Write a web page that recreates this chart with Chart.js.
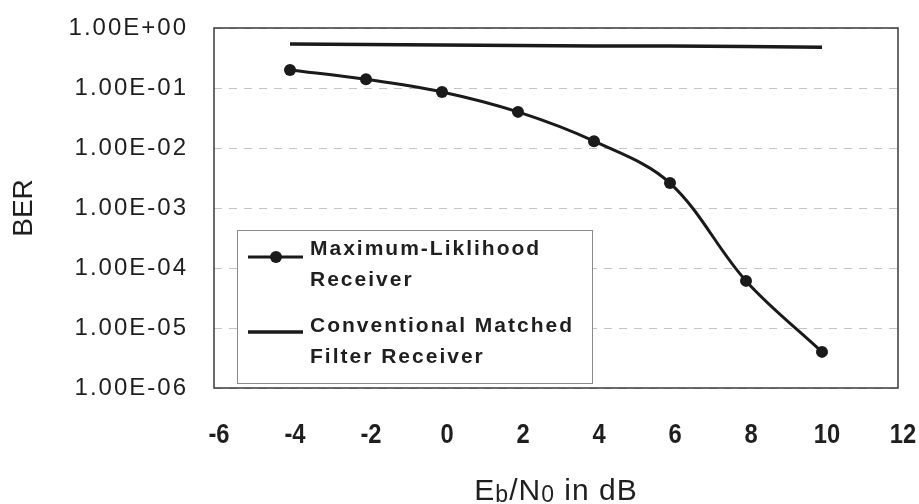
<!DOCTYPE html>
<html>
<head>
<meta charset="utf-8">
<title>BER vs Eb/N0</title>
<script src="https://cdn.jsdelivr.net/npm/chart.js@4.4.1/dist/chart.umd.min.js"></script>
<style>
  html, body { margin: 0; padding: 0; background: #fff; }
  #berChart { display: block; }
</style>
</head>
<body>
<canvas id="berChart" width="919" height="504"></canvas>
<script>
// Eb/N0 in dB
const ebNo = [-4, -2, 0, 2, 4, 6, 8, 10];
// BER
const mlBer = [0.2, 0.14, 0.086, 0.04, 0.013, 0.0026, 6.1e-5, 4e-6];
const mfBer = [0.54, 0.53, 0.52, 0.51, 0.5, 0.5, 0.49, 0.48];
// axes
const xTicks = [-6, -4, -2, 0, 2, 4, 6, 8, 10, 12];
const yTicks = [1, 1e-1, 1e-2, 1e-3, 1e-4, 1e-5, 1e-6];
const yTickLabels = ['1.00E+00', '1.00E-01', '1.00E-02', '1.00E-03', '1.00E-04', '1.00E-05', '1.00E-06'];
const legendLabels = [['Maximum-Liklihood', 'Receiver'], ['Conventional Matched', 'Filter Receiver']];

const FONT = "'Liberation Sans', Arial, sans-serif";
const INK = '#1f1f1f';

const decor = {
  id: 'decor',
  beforeDraw(chart) {
    const ctx = chart.ctx;
    ctx.save();
    ctx.fillStyle = '#fff';
    ctx.fillRect(0, 0, chart.width, chart.height);
    ctx.restore();
    // y tick labels in the original are spaced out
    ctx.letterSpacing = '2px';
  },
  beforeDatasetsDraw(chart) {
    const ctx = chart.ctx, a = chart.chartArea, ys = chart.scales.y;
    ctx.save();
    ctx.letterSpacing = '0px';
    // dashed gridlines
    ctx.strokeStyle = '#c4c4c4';
    ctx.lineWidth = 1;
    ctx.setLineDash([8, 7]);
    yTicks.forEach(function(v) {
      const y = Math.round(ys.getPixelForValue(v)) + 0.5;
      ctx.beginPath();
      ctx.moveTo(a.left, y);
      ctx.lineTo(a.right, y);
      ctx.stroke();
    });
    ctx.setLineDash([]);
    // plot frame
    ctx.strokeStyle = '#3a3a3a';
    ctx.lineWidth = 1.5;
    ctx.strokeRect(a.left, a.top, a.right - a.left, a.bottom - a.top);
    ctx.restore();
  },
  afterDraw(chart) {
    const ctx = chart.ctx, a = chart.chartArea, xs = chart.scales.x;
    ctx.save();

    // x tick labels, narrow like the original
    ctx.letterSpacing = '0px';
    ctx.fillStyle = INK;
    ctx.font = 'bold 27px ' + FONT;
    ctx.textAlign = 'center';
    ctx.textBaseline = 'middle';
    xs.ticks.forEach(function(t) {
      const px = xs.getPixelForValue(t.value) + 5;
      ctx.save();
      ctx.translate(px, 436);
      ctx.scale(0.88, 1);
      ctx.fillText(String(t.value), 0, 0);
      ctx.restore();
    });

    // legend box inside plot
    const lx = a.left + 23, ly = a.top + 202, lw = 355, lh = 153;
    ctx.fillStyle = '#fff';
    ctx.fillRect(lx, ly, lw, lh);
    ctx.strokeStyle = '#8a8a8a';
    ctx.lineWidth = 1;
    ctx.strokeRect(lx + 0.5, ly + 0.5, lw, lh);

    ctx.font = 'bold 21px ' + FONT;
    ctx.letterSpacing = '2px';
    ctx.fillStyle = INK;
    ctx.textAlign = 'left';
    ctx.textBaseline = 'alphabetic';
    const rows = [ly + 25, ly + 102];
    legendLabels.forEach(function(lines, i) {
      const ds = chart.data.datasets[i];
      const sy = rows[i] + (i === 0 ? 2 : 0);
      ctx.strokeStyle = ds.borderColor;
      ctx.lineWidth = ds.borderWidth;
      ctx.beginPath();
      ctx.moveTo(lx + 11, sy);
      ctx.lineTo(lx + 66, sy);
      ctx.stroke();
      if (ds.pointRadius > 0) {
        ctx.fillStyle = ds.pointBackgroundColor;
        ctx.beginPath();
        ctx.arc(lx + 39, sy, ds.pointRadius, 0, Math.PI * 2);
        ctx.fill();
      }
      ctx.fillStyle = INK;
      ctx.fillText(lines[0], lx + 73, rows[i]);
      ctx.fillText(lines[1], lx + 73, rows[i] + 31);
    });

    // y title
    ctx.save();
    ctx.translate(24, (a.top + a.bottom) / 2);
    ctx.rotate(-Math.PI / 2);
    ctx.font = '28px ' + FONT;
    ctx.letterSpacing = '0px';
    ctx.textAlign = 'center';
    ctx.textBaseline = 'middle';
    ctx.fillText('BER', 0, 0);
    ctx.restore();

    // x title with subscripts
    const parts = [['E', 30, 0], ['b', 23, 2], ['/N', 30, 0], ['0', 23, 2], [' in dB', 30, 0]];
    ctx.letterSpacing = '1px';
    ctx.textAlign = 'left';
    ctx.textBaseline = 'alphabetic';
    let total = 0;
    parts.forEach(function(p) {
      ctx.font = p[1] + 'px ' + FONT;
      total += ctx.measureText(p[0]).width;
    });
    let x = (a.left + a.right) / 2 - total / 2;
    parts.forEach(function(p) {
      ctx.font = p[1] + 'px ' + FONT;
      ctx.fillText(p[0], x, 500 + p[2]);
      x += ctx.measureText(p[0]).width;
    });

    ctx.restore();
  }
};

const ctx = document.getElementById('berChart').getContext('2d');
const chart = new Chart(ctx, {
  type: 'line',
  data: {
    datasets: [{
      label: 'Maximum-Liklihood Receiver',
      data: ebNo.map(function(x, i) { return { x: x, y: mlBer[i] }; }),
      borderColor: '#1a1a1a',
      borderWidth: 3,
      pointRadius: 6,
      pointBackgroundColor: '#1a1a1a',
      pointBorderWidth: 0,
      tension: 0.35
    }, {
      label: 'Conventional Matched Filter Receiver',
      data: ebNo.map(function(x, i) { return { x: x, y: mfBer[i] }; }),
      borderColor: '#1a1a1a',
      borderWidth: 3.5,
      pointRadius: 0,
      tension: 0
    }]
  },
  options: {
    responsive: false,
    animation: false,
    layout: { padding: { left: 0, right: 21, top: 28, bottom: 0 } },
    plugins: {
      legend: { display: false },
      tooltip: { enabled: false }
    },
    scales: {
      x: {
        type: 'linear',
        min: -6,
        max: 12,
        afterBuildTicks: function(scale) {
          scale.ticks = xTicks.map(function(v) { return { value: v }; });
        },
        afterFit: function(scale) {
          scale.height = 116;
          scale.paddingLeft = 0;
          scale.paddingRight = 0;
        },
        grid: { display: false, drawTicks: false },
        border: { display: false },
        ticks: { display: false }
      },
      y: {
        type: 'logarithmic',
        min: 1e-6,
        max: 1,
        afterBuildTicks: function(scale) {
          scale.ticks = yTicks.map(function(v) { return { value: v }; });
        },
        afterFit: function(scale) {
          scale.width = 214;
          scale.paddingTop = 0;
          scale.paddingBottom = 0;
        },
        grid: { display: false, drawTicks: false },
        border: { display: false },
        ticks: {
          color: INK,
          padding: 26,
          font: { family: FONT, size: 24 },
          callback: function(value) {
            return yTickLabels[yTicks.indexOf(value)];
          }
        }
      }
    }
  },
  plugins: [decor]
});
</script>
</body>
</html>
